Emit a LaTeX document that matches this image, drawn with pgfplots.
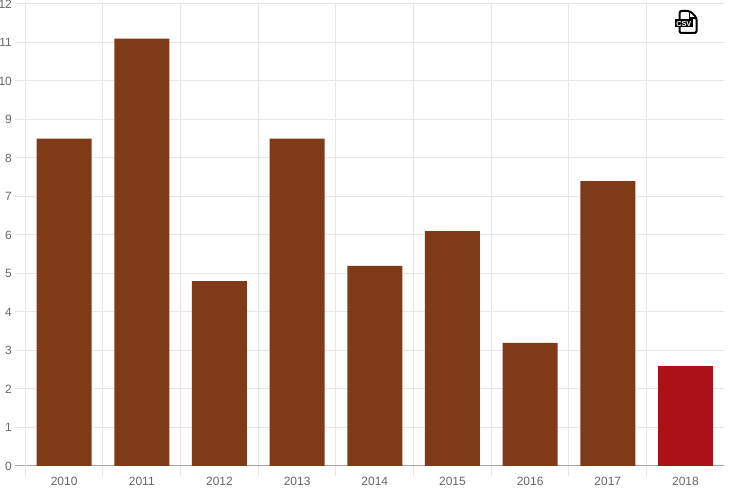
\documentclass[border=0pt]{standalone}
\usepackage{fontspec}
\setmainfont{Liberation Sans}
\usepackage{pgfplots}
\pgfplotsset{compat=1.18}
\definecolor{barbrown}{HTML}{7F3A18}
\definecolor{barred}{HTML}{AD1118}
\definecolor{gridc}{HTML}{E6E6E6}
\definecolor{axisc}{HTML}{A6A6A6}
\definecolor{textc}{HTML}{666666}
\pgfplotstableread{
x val
0 8.5
1 11.1
2 4.8
3 8.5
4 5.2
5 6.1
6 3.2
7 7.4
}\brownbars
\pgfplotstableread{
x val
8 2.6
}\redbars
\begin{document}
\begin{tikzpicture}
% page is 747x495 px at 0.75pt per px, data point (0,0) sits at the origin
\useasboundingbox (-48.1pt,-21.75pt) rectangle (512.15pt,349.5pt);
\begin{axis}[
  anchor=origin,
  scale only axis,
  width=524.25pt,
  height=346.5pt,
  xmin=-0.5, xmax=8.5,
  ymin=0, ymax=12,
  ybar,
  bar width=41.25pt,
  bar shift=0pt,
  axis x line*=bottom,
  axis y line*=left,
  x axis line style={draw=axisc,line width=0.75pt,-},
  y axis line style={draw=gridc,line width=0.75pt,-},
  xtick={0,1,2,3,4,5,6,7,8},
  xticklabels={2010,2011,2012,2013,2014,2015,2016,2017,2018},
  minor xtick={-0.5,0.5,1.5,2.5,3.5,4.5,5.5,6.5,7.5},
  ytick={0,1,2,3,4,5,6,7,8,9,10,11,12},
  major x tick style={draw=none},
  minor x tick style={draw=gridc,line width=0.75pt},
  minor tick length=7.5pt,
  y tick style={draw=gridc,line width=0.75pt},
  major tick length=7.5pt,
  tick align=outside,
  xminorgrids=true,
  ymajorgrids=true,
  grid style={draw=gridc,line width=0.75pt},
  minor grid style={draw=gridc,line width=0.75pt},
  tick label style={font=\fontsize{9}{11}\selectfont,text=textc},
  /pgf/number format/assume math mode=true,
  x tick label style={yshift=3pt},
  y tick label style={xshift=1pt},
  clip=false,
]
\addplot[fill=barbrown,draw=none] table[x=x,y=val] {\brownbars};
\addplot[fill=barred,draw=none] table[x=x,y=val] {\redbars};
\end{axis}
% tick beside the zero line is darker
\draw[axisc,line width=0.75pt] (-36.625pt,0pt) -- (-29.125pt,0pt);
% csv download icon, in px from the image corner
\begin{scope}[x=0.75pt,y=-0.75pt,shift={(-64.13,-466)}]
\draw[black,line width=1.5pt,rounded corners=1.5pt,fill=white]
  (679.5,11) -- (690,11) -- (696.5,17.5) -- (696.5,33) -- (679.5,33) -- cycle;
\draw[black,line width=1pt] (689.5,11) -- (689.5,18) -- (696.5,18);
\fill[black] (675,19.5) rectangle (692.5,27.5);
\node[text=white,font=\bfseries\fontsize{5.5}{6}\selectfont,inner sep=0pt] at (683.8,23.5) {CSV};
\end{scope}
\end{tikzpicture}
\end{document}
